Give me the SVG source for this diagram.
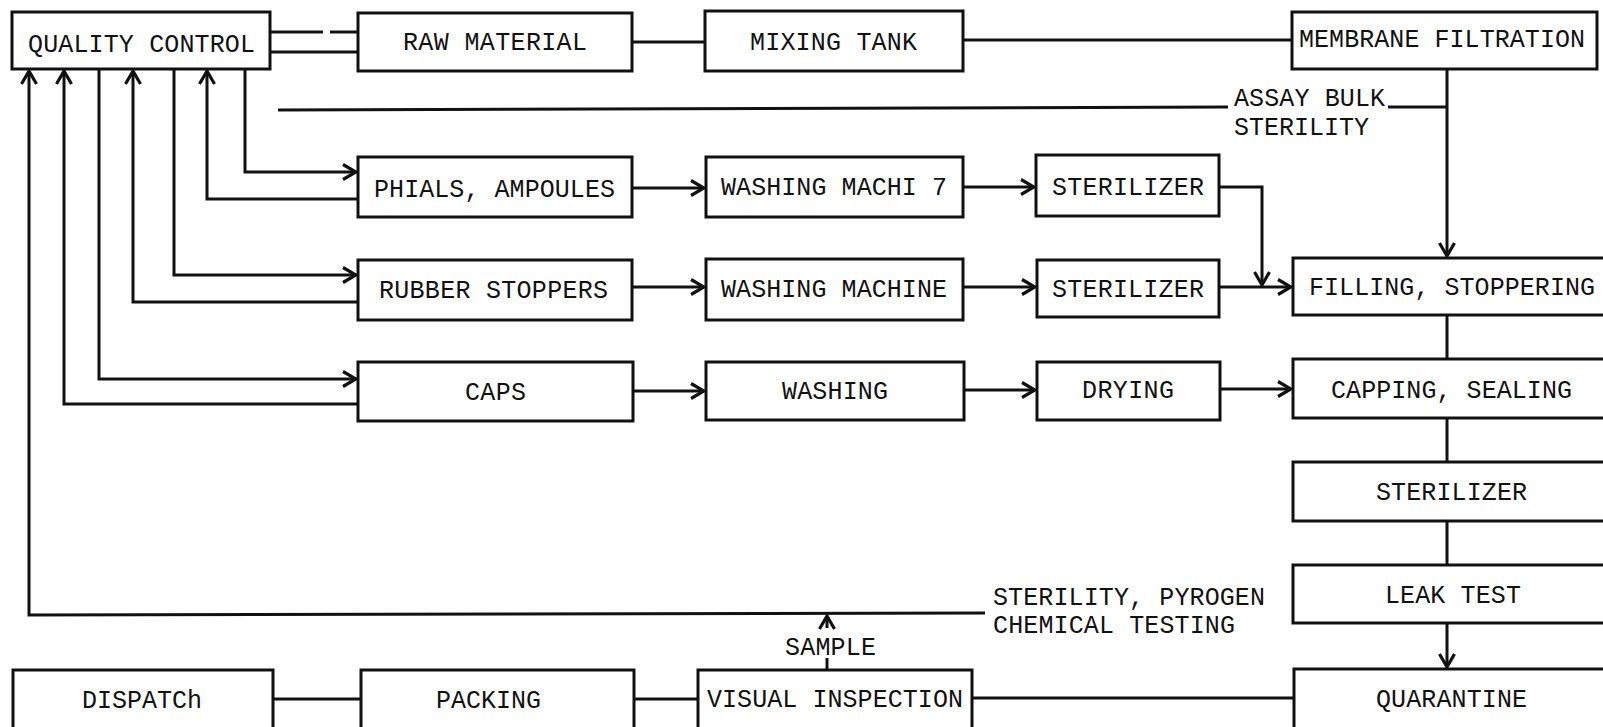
<svg xmlns="http://www.w3.org/2000/svg" width="1603" height="727" viewBox="0 0 1603 727">
<style>
.box{fill:#fff;stroke:#111;stroke-width:3}
.ln{fill:none;stroke:#111;stroke-width:3}
.t{font-family:"Liberation Mono","DejaVu Sans Mono",monospace;font-size:25px;fill:#111}
</style>
<defs>
<marker id="ah" viewBox="-16 -10 19 20" refX="0" refY="0" markerWidth="19" markerHeight="20" markerUnits="userSpaceOnUse" orient="auto">
<path d="M-13,-7.5 L0,0 L-13,7.5" fill="none" stroke="#111" stroke-width="3.2"/>
</marker>
</defs>
<rect width="1603" height="727" fill="#fff"/>
<g id="connectors">
<path class="ln" d="M270,32 H323 M330,32 H358"/>
<path class="ln" d="M270,52 H358"/>
<path class="ln" d="M632,42 H705"/>
<path class="ln" d="M963,40 H1292"/>
<path class="ln" d="M1447,69 V256" marker-end="url(#ah)"/>
<path class="ln" d="M1388,107 H1447"/>
<path class="ln" d="M278,110 L1228,107"/>
<path class="ln" d="M245,69 V172 H356" marker-end="url(#ah)"/>
<path class="ln" d="M358,199 H207 V71" marker-end="url(#ah)"/>
<path class="ln" d="M174,69 V275 H356" marker-end="url(#ah)"/>
<path class="ln" d="M358,302 H133 V71" marker-end="url(#ah)"/>
<path class="ln" d="M99,69 V379 H356" marker-end="url(#ah)"/>
<path class="ln" d="M358,404 H64 V71" marker-end="url(#ah)"/>
<path class="ln" d="M985,613 L29,615 V71" marker-end="url(#ah)"/>
<path class="ln" d="M632,188 H704" marker-end="url(#ah)"/>
<path class="ln" d="M963,187 H1034" marker-end="url(#ah)"/>
<path class="ln" d="M1219,187 H1262 V285" marker-end="url(#ah)"/>
<path class="ln" d="M632,287 H704" marker-end="url(#ah)"/>
<path class="ln" d="M963,287 H1035" marker-end="url(#ah)"/>
<path class="ln" d="M1219,287 H1291" marker-end="url(#ah)"/>
<path class="ln" d="M633,391 H704" marker-end="url(#ah)"/>
<path class="ln" d="M964,390 H1035" marker-end="url(#ah)"/>
<path class="ln" d="M1220,389 H1291" marker-end="url(#ah)"/>
<path class="ln" d="M1447,315 V359"/>
<path class="ln" d="M1447,418 V462"/>
<path class="ln" d="M1447,521 V565"/>
<path class="ln" d="M1447,623 V667" marker-end="url(#ah)"/>
<path class="ln" d="M273,699 H361"/>
<path class="ln" d="M634,699 H698"/>
<path class="ln" d="M972,698 H1294"/>
<path class="ln" d="M827,628 V616" marker-end="url(#ah)"/>
<path class="ln" d="M827,658 V670"/>
<text class="t" x="1234" y="106" textLength="151" lengthAdjust="spacing">ASSAY BULK</text>
<text class="t" x="1234" y="135" textLength="135" lengthAdjust="spacing">STERILITY</text>
<text class="t" x="993" y="605" textLength="272" lengthAdjust="spacing">STERILITY, PYROGEN</text>
<text class="t" x="993" y="633" textLength="242" lengthAdjust="spacing">CHEMICAL TESTING</text>
<text class="t" x="785" y="655" textLength="91" lengthAdjust="spacing">SAMPLE</text>
</g>
<g id="qc"><rect class="box" x="12" y="12" width="258" height="57"/><text class="t" x="28" y="52" textLength="227" lengthAdjust="spacing">QUALITY CONTROL</text></g>
<g id="raw"><rect class="box" x="358" y="13" width="274" height="58"/><text class="t" x="403" y="50" textLength="184" lengthAdjust="spacing">RAW MATERIAL</text></g>
<g id="mix"><rect class="box" x="705" y="11" width="258" height="60"/><text class="t" x="750" y="50" textLength="167" lengthAdjust="spacing">MIXING TANK</text></g>
<g id="mem"><rect class="box" x="1292" y="12" width="305" height="57"/><text class="t" x="1299" y="47" textLength="286" lengthAdjust="spacing">MEMBRANE FILTRATION</text></g>
<g id="phials"><rect class="box" x="358" y="157" width="274" height="60"/><text class="t" x="374" y="197" textLength="241" lengthAdjust="spacing">PHIALS, AMPOULES</text></g>
<g id="wm1"><rect class="box" x="706" y="157" width="257" height="60"/><text class="t" x="721" y="195" textLength="226" lengthAdjust="spacing">WASHING MACHI 7</text></g>
<g id="st1"><rect class="box" x="1036" y="155" width="183" height="61"/><text class="t" x="1052" y="195" textLength="152" lengthAdjust="spacing">STERILIZER</text></g>
<g id="rubber"><rect class="box" x="358" y="260" width="274" height="60"/><text class="t" x="379" y="298" textLength="229" lengthAdjust="spacing">RUBBER STOPPERS</text></g>
<g id="wm2"><rect class="box" x="706" y="259" width="257" height="61"/><text class="t" x="721" y="297" textLength="226" lengthAdjust="spacing">WASHING MACHINE</text></g>
<g id="st2"><rect class="box" x="1037" y="260" width="182" height="57"/><text class="t" x="1052" y="297" textLength="152" lengthAdjust="spacing">STERILIZER</text></g>
<g id="fill"><rect class="box" x="1293" y="258" width="330" height="57"/><text class="t" x="1309" y="295" textLength="286" lengthAdjust="spacing">FILLING, STOPPERING</text></g>
<g id="caps"><rect class="box" x="358" y="362" width="275" height="59"/><text class="t" x="465" y="400" textLength="61" lengthAdjust="spacing">CAPS</text></g>
<g id="wash"><rect class="box" x="706" y="362" width="258" height="58"/><text class="t" x="782" y="399" textLength="106" lengthAdjust="spacing">WASHING</text></g>
<g id="dry"><rect class="box" x="1037" y="362" width="183" height="58"/><text class="t" x="1082" y="398" textLength="92" lengthAdjust="spacing">DRYING</text></g>
<g id="capping"><rect class="box" x="1293" y="359" width="330" height="59"/><text class="t" x="1331" y="398" textLength="241" lengthAdjust="spacing">CAPPING, SEALING</text></g>
<g id="st3"><rect class="box" x="1293" y="462" width="330" height="59"/><text class="t" x="1376" y="500" textLength="151" lengthAdjust="spacing">STERILIZER</text></g>
<g id="leak"><rect class="box" x="1293" y="565" width="330" height="58"/><text class="t" x="1385" y="603" textLength="136" lengthAdjust="spacing">LEAK TEST</text></g>
<g id="quar"><rect class="box" x="1294" y="669" width="330" height="80"/><text class="t" x="1376" y="707" textLength="151" lengthAdjust="spacing">QUARANTINE</text></g>
<g id="disp"><rect class="box" x="13" y="670" width="260" height="80"/><text class="t" x="82" y="708" textLength="120" lengthAdjust="spacing">DISPATCh</text></g>
<g id="pack"><rect class="box" x="361" y="670" width="273" height="80"/><text class="t" x="436" y="708" textLength="105" lengthAdjust="spacing">PACKING</text></g>
<g id="vi"><rect class="box" x="698" y="670" width="274" height="80"/><text class="t" x="707" y="707" textLength="256" lengthAdjust="spacing">VISUAL INSPECTION</text></g>
</svg>
